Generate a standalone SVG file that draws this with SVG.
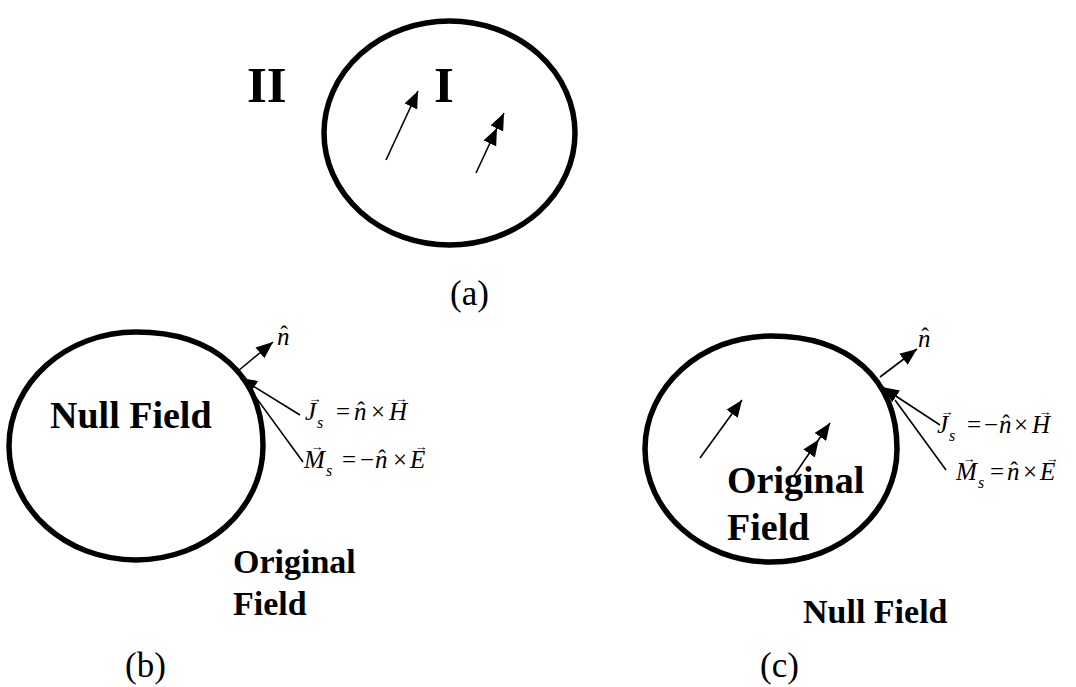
<svg xmlns="http://www.w3.org/2000/svg" width="1076" height="687" viewBox="0 0 1076 687">
<style>
.bound{fill:none;stroke:#000;stroke-width:5.5}
.arr{fill:none;stroke:#000;stroke-width:1.6}
.bold{font-family:"Liberation Serif","Times New Roman",serif;font-weight:bold;fill:#000}
.cap{font-family:"Liberation Serif","Times New Roman",serif;font-size:35px;fill:#000}
.math{font-family:"Liberation Serif","Times New Roman",serif;font-size:25px;fill:#000}
.it{font-style:italic}
.sub{font-style:italic;font-size:16px}
.vec{font-family:"Liberation Serif","DejaVu Serif",serif;font-size:13px;fill:#000;text-anchor:middle}
.hat{font-family:"Liberation Serif","DejaVu Serif",serif;font-size:23px;fill:#000;text-anchor:middle}
</style>
<defs>
<marker id="head" markerUnits="userSpaceOnUse" markerWidth="18" markerHeight="14" refX="17" refY="7" orient="auto">
<path d="M0,0 L17,7 L0,14 z" fill="#000"/>
</marker>
</defs>

<g id="panel-a">
<ellipse class="bound" cx="449.5" cy="133" rx="125.5" ry="112"/>
<text class="bold" x="247" y="102" font-size="51">II</text>
<text class="bold" x="434" y="102" font-size="51">I</text>
<text class="cap" x="450" y="305">(a)</text>
</g>

<g id="panel-b">
<path class="bound" d="M136,332 C214.7,332 263,375.3 263,446 C263,509 206,560 136,560 C66,560 9,509 9,446 C9,383 66,332 136,332 Z"/>
<text class="bold" x="50" y="428" font-size="38">Null Field</text>
<text class="bold" x="233" y="573" font-size="34">Original</text>
<text class="bold" x="233" y="615" font-size="34">Field</text>
<text class="cap" x="125" y="677">(b)</text>
<text class="math it" x="277" y="345" font-size="22">n</text>
<text class="hat" x="284" y="342">ˆ</text>
<g id="label-b-J">
<text class="math"><tspan class="it" x="305" y="420">J</tspan><tspan class="sub" x="317" y="428">s</tspan><tspan x="336" y="420">=</tspan><tspan class="it" x="354" y="420">n</tspan><tspan x="371" y="420">×</tspan><tspan class="it" x="389" y="420">H</tspan></text>
<text class="hat" x="361" y="418">ˆ</text>
<text class="vec" x="315" y="403">→</text>
<text class="vec" x="401" y="403">→</text>
</g>
<g id="label-b-M">
<text class="math"><tspan class="it" x="304" y="468">M</tspan><tspan class="sub" x="326" y="476">s</tspan><tspan x="342" y="468">=</tspan><tspan x="360" y="468">−</tspan><tspan class="it" x="375" y="468">n</tspan><tspan x="393" y="468">×</tspan><tspan class="it" x="410" y="468">E</tspan></text>
<text class="hat" x="382" y="466">ˆ</text>
<text class="vec" x="317" y="451">→</text>
<text class="vec" x="421" y="451">→</text>
</g>
</g>

<g id="panel-c">
<path class="bound" d="M771,336 C849,336 897,379 897,449 C897,511 841,562 771,562 C701,562 645,511 645,449 C645,387 701,336 771,336 Z"/>
<text class="bold" x="727" y="493" font-size="38">Original</text>
<text class="bold" x="727" y="540" font-size="38">Field</text>
<text class="bold" x="803" y="623" font-size="34">Null Field</text>
<text class="cap" x="760" y="677">(c)</text>
<text class="math it" x="918" y="347" font-size="22">n</text>
<text class="hat" x="925" y="344">ˆ</text>
<g id="label-c-J">
<text class="math"><tspan class="it" x="937" y="433">J</tspan><tspan class="sub" x="949" y="441">s</tspan><tspan x="967" y="433">=</tspan><tspan x="984" y="433">−</tspan><tspan class="it" x="999" y="433">n</tspan><tspan x="1014" y="433">×</tspan><tspan class="it" x="1032" y="433">H</tspan></text>
<text class="hat" x="1006" y="431">ˆ</text>
<text class="vec" x="947" y="416">→</text>
<text class="vec" x="1045" y="416">→</text>
</g>
<g id="label-c-M">
<text class="math"><tspan class="it" x="956" y="480">M</tspan><tspan class="sub" x="978" y="488">s</tspan><tspan x="990" y="480">=</tspan><tspan class="it" x="1007" y="480">n</tspan><tspan x="1023" y="480">×</tspan><tspan class="it" x="1040" y="480">E</tspan></text>
<text class="hat" x="1014" y="478">ˆ</text>
<text class="vec" x="969" y="463">→</text>
<text class="vec" x="1052" y="463">→</text>
</g>
</g>

<g id="connectors">
<path class="arr" d="M386,160 L418,91" marker-end="url(#head)"/>
<path class="arr" d="M476,173 L497,128 L504,113" marker-mid="url(#head)" marker-end="url(#head)"/>
<path class="arr" d="M238,371 L273,342" marker-end="url(#head)"/>
<path class="arr" d="M300,415 L240,378" marker-end="url(#head)"/>
<path class="arr" d="M303,462 L252,392"/>
<path class="arr" d="M700,458 L742,400" marker-end="url(#head)"/>
<path class="arr" d="M793,477 L818.7,439.5 L830,423" marker-mid="url(#head)" marker-end="url(#head)"/>
<path class="arr" d="M880,377 L917,349" marker-end="url(#head)"/>
<path class="arr" d="M940,425 L882,387" marker-end="url(#head)"/>
<path class="arr" d="M946,470 L895,400"/>
</g>
</svg>
